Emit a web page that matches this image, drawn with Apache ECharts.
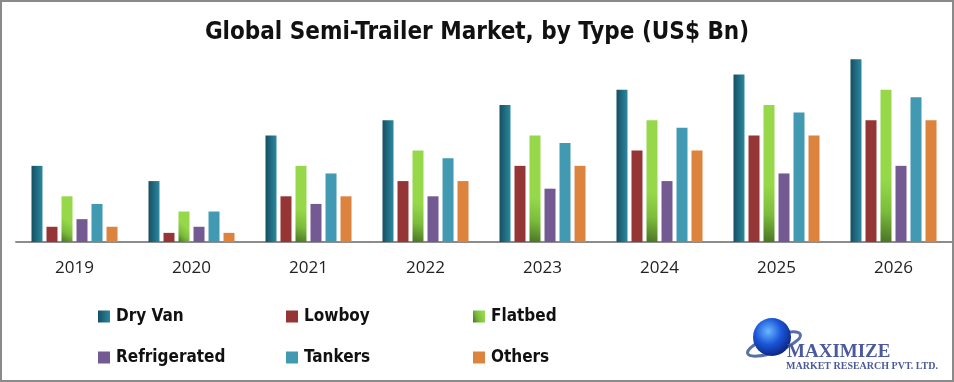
<!DOCTYPE html>
<html>
<head>
<meta charset="utf-8">
<script src="https://cdn.jsdelivr.net/npm/echarts@6/dist/echarts.min.js"></script>
<style>html,body{margin:0;padding:0;background:#fff}#c{width:954px;height:382px}</style>
</head>
<body>
<div id="c"></div>
<script>
const categories = ['2019','2020','2021','2022','2023','2024','2025','2026'];
const dryVan       = [5, 4, 7, 8, 9, 10, 11, 12];
const lowboy       = [1, 0.6, 3, 4, 5, 6, 7, 8];
const flatbed      = [3, 2, 5, 6, 7, 8, 9, 10];
const refrigerated = [1.5, 1, 2.5, 3, 3.5, 4, 4.5, 5];
const tankers      = [2.5, 2, 4.5, 5.5, 6.5, 7.5, 8.5, 9.5];
const others       = [1, 0.6, 3, 4, 5, 6, 7, 8];
const seriesNames = ['Dry Van','Lowboy','Flatbed','Refrigerated','Tankers','Others'];
const seriesData = [dryVan, lowboy, flatbed, refrigerated, tankers, others];

const G = echarts.graphic;
const colors = [
  new G.LinearGradient(0,0,1,0,[{offset:0,color:'#174f62'},{offset:1,color:'#2a88a0'}]),
  '#963536',
  new G.LinearGradient(0,1,1,0.6,[{offset:0,color:'#4a7424'},{offset:0.5,color:'#7cbc3c'},{offset:1,color:'#96d84a'}]),
  '#735a92',
  '#4299b2',
  '#dc833e'
];

const chart = echarts.init(document.getElementById('c'));
const legendPos = [[98,308],[286,308],[473,308],[98,349],[286,349],[473,349]];
const legends = seriesNames.map((n,i)=>({
  data:[n], left:legendPos[i][0], top:legendPos[i][1], padding:0,
  icon:'rect', itemWidth:12, itemHeight:12, itemGap:0,
  selectedMode:false,
  textStyle:{fontFamily:'"DejaVu Sans Condensed","Liberation Sans Narrow",sans-serif',fontWeight:'bold',fontSize:17,color:'#111',padding:[0,0,0,1]}
}));

chart.setOption({
  animation:false,
  title:{text:'Global Semi-Trailer Market, by Type (US$ Bn)',left:'center',top:16,
    textStyle:{fontFamily:'"DejaVu Sans Condensed","Liberation Sans Narrow",sans-serif',fontWeight:'bold',fontSize:24,color:'#111'}},
  legend:legends,
  grid:{left:16,right:2,top:44,bottom:140,containLabel:false},
  xAxis:{type:'category',data:categories,
    axisLine:{lineStyle:{color:'#8c8c8c',width:2}},axisTick:{show:false},
    axisLabel:{margin:18,fontFamily:'"Open Sans","DejaVu Sans",sans-serif',fontSize:17,color:'#222'}},
  yAxis:{type:'value',min:0,max:13,show:false,splitLine:{show:false}},
  series:seriesNames.map((n,i)=>({
    name:n,type:'bar',data:seriesData[i],barWidth:11,barGap:'36.4%',
    itemStyle:{color:colors[i]}
  })),
  graphic:[
    {type:'rect',shape:{x:1,y:1,width:952,height:380},style:{fill:'none',stroke:'#8a8a8a',lineWidth:2},silent:true},
    {type:'ellipse',shape:{cx:774,cy:344,rx:28,ry:8},rotation:0.35,originX:774,originY:344,style:{fill:'none',stroke:'#5a6ea8',lineWidth:3},z:10},
    {type:'circle',shape:{cx:772,cy:337,r:19},
      style:{fill:new G.RadialGradient(0.4,0.35,0.7,[{offset:0,color:'#6ab8ff'},{offset:0.5,color:'#1a56d8'},{offset:1,color:'#0b1f7a'}])},z:11},
    {type:'text',left:787,top:343,style:{text:'MAXIMIZE',font:'bold 19px "Liberation Serif","DejaVu Serif",serif',fill:'#4a5a9c'},z:12},
    {type:'text',left:786,top:361,style:{text:'MARKET RESEARCH PVT. LTD.',font:'bold 10px "Liberation Serif","DejaVu Serif",serif',fill:'#4a5a9c'},z:12}
  ]
});
</script>
</body>
</html>
